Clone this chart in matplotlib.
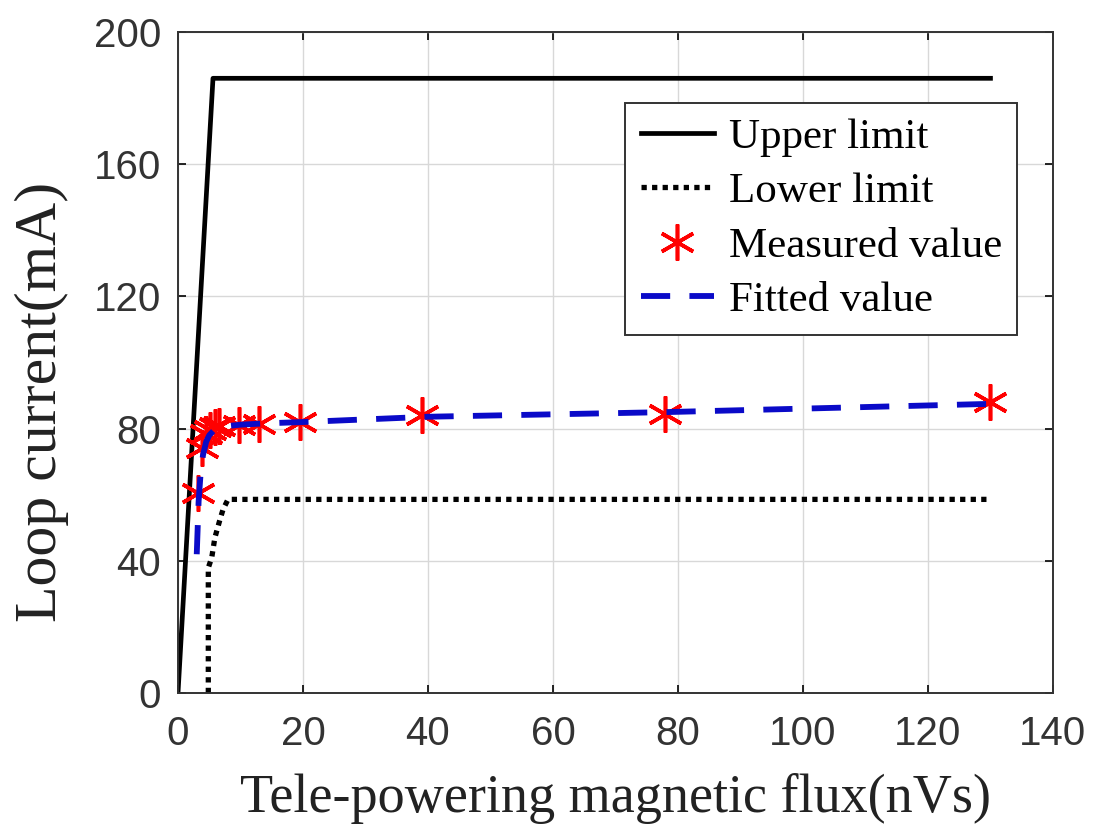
import numpy as np
import matplotlib
matplotlib.use('Agg')
import matplotlib.pyplot as plt

# values
upper_x = [0, 5.6, 130]
upper_y = [0, 186, 186]

lower_x = [4.85, 4.85, 5.4, 5.9, 6.7, 7.2, 8.0, 130]
lower_y = [0, 37.9, 41, 47, 52.4, 55.5, 58.6, 58.6]

meas_x = [3.25, 3.9, 4.55, 5.2, 5.85, 6.5, 9.75, 13, 19.5, 39, 78, 130]
meas_y = [60.5, 74, 78.5, 79.5, 80.5, 80.8, 81.2, 81.5, 82, 84, 84.5, 88]

fit_x = [3.0, 3.3, 3.6, 4.0, 4.5, 5.0, 6.0, 8, 10, 14, 20, 40, 78, 130]
fit_y = [42, 58, 66, 72, 76, 78, 80, 80.8, 81.2, 81.6, 82, 83.6, 85, 87.5]

xticks = [0, 20, 40, 60, 80, 100, 120, 140]
yticks = [0, 40, 80, 120, 160, 200]

fig = plt.figure(figsize=(10.94, 8.32), dpi=100)
ax = fig.add_axes([0.1627, 0.167, 0.7998, 0.7945])

ax.plot(upper_x, upper_y, color='black', lw=3.4, label='Upper limit')
ax.plot(lower_x, lower_y, color='black', lw=3.8, linestyle=(0, (1, 1)), label='Lower limit')
ax.plot(meas_x, meas_y, linestyle='none', marker=(6, 2, 0), markersize=26,
        markeredgewidth=2.6, color='red', markeredgecolor='red', label='Measured value')
ax.plot(fit_x, fit_y, color='#0a0ac8', lw=4.2, linestyle=(0, (5, 3.3)), label='Fitted value')

ax.set_xlim(0, 140)
ax.set_ylim(0, 200)
ax.set_xticks(xticks)
ax.set_yticks(yticks)
ax.grid(True, color='#d8d8d8', lw=1)
ax.set_axisbelow(True)
ax.tick_params(direction='in', top=True, right=True, length=6, width=1.2,
               labelsize=29, labelcolor='#333333')
ax.tick_params(axis='x', pad=16)
ax.tick_params(axis='y', pad=12)
for lab in ax.get_xticklabels() + ax.get_yticklabels():
    lab.set_fontfamily('Liberation Sans')
for s in ax.spines.values():
    s.set_linewidth(1.4)
    s.set_color('#333333')

ax.set_xlabel('Tele-powering magnetic flux(nVs)', fontsize=39, family='Liberation Serif',
              color='#222222', labelpad=14)
ax.set_ylabel('Loop current(mA)', fontsize=43, family='Liberation Serif',
              color='#222222')
ax.yaxis.set_label_coords(-0.125, 0.44)

leg = ax.legend(loc='upper right', bbox_to_anchor=(0.959, 0.8926),
                prop={'family': 'Liberation Serif', 'size': 31},
                frameon=True, fancybox=False, edgecolor='#333333', framealpha=1,
                handlelength=1.7, handletextpad=0.35, borderpad=0.35, labelspacing=0.35,
                borderaxespad=0)
leg.get_frame().set_linewidth(1.4)

fig.savefig('out.png', dpi=100)
